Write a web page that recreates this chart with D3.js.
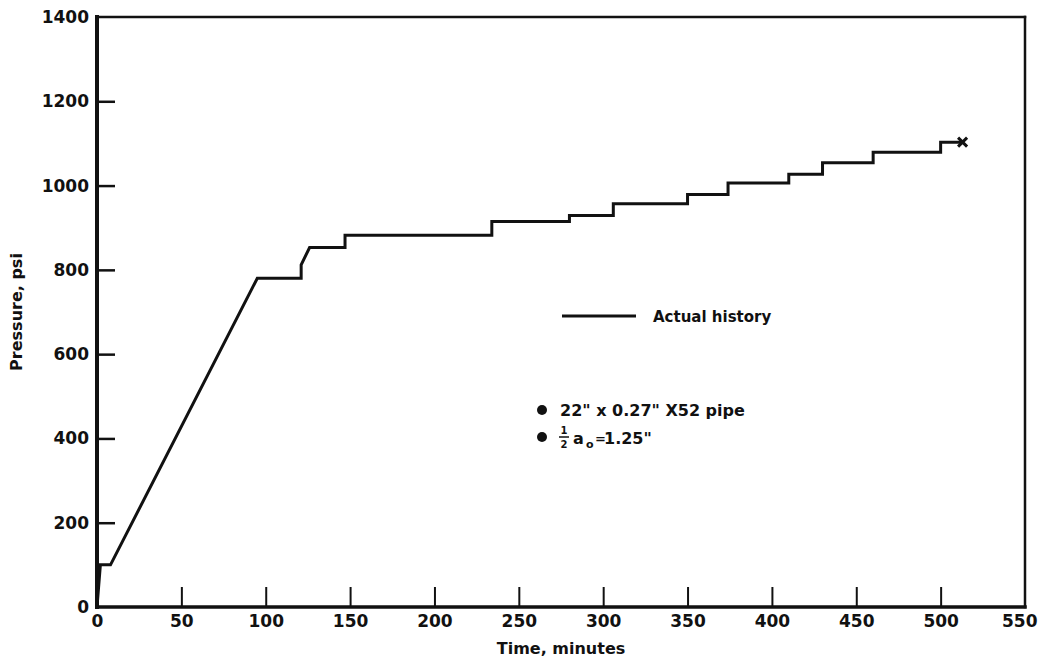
<!DOCTYPE html>
<html>
<head>
<meta charset="utf-8">
<script src="https://cdn.jsdelivr.net/npm/d3@7/dist/d3.min.js"></script>
<style>
  body { margin: 0; background: #fff; }
  svg text { font-family: "DejaVu Sans", sans-serif; font-weight: bold; fill: #111; }
</style>
</head>
<body>
<svg id="chart" width="1039" height="664"></svg>
<script>
// Pressure history of the hydrostatic test, read as corner points of the trace
const timeMin = [0, 2, 8, 95, 121, 121, 126, 147, 147, 234, 234, 280, 280, 306, 306,
                 350, 350, 374, 374, 410, 410, 430, 430, 460, 460, 500, 500, 513];
const pressurePsi = [0, 100, 100, 780, 780, 812, 853, 853, 882, 882, 915, 915, 929, 929, 957,
                     957, 979, 979, 1006, 1006, 1027, 1027, 1054, 1054, 1079, 1079, 1103, 1103];
// Failure point, marked with a cross
const failureTime = [513];
const failurePressure = [1103];

const xTickValues = [0, 50, 100, 150, 200, 250, 300, 350, 400, 450, 500, 550];
const yTickValues = [0, 200, 400, 600, 800, 1000, 1200, 1400];

const legendLabel = "Actual history";
const noteLines = ["22\" x 0.27\" X52 pipe"];

const svg = d3.select("#chart");
const ink = "#111";
const W = 1039;

const x = d3.scaleLinear().domain([0, 550]).range([97, 1025]);
const y = d3.scaleLinear().domain([0, 1400]).range([607, 17]);

// Y axis: ticks point inward, labels to the left
const yAxis = d3.axisLeft(y)
  .tickValues(yTickValues)
  .tickSize(-18)
  .tickPadding(8)
  .tickFormat(d3.format("d"));
const gy = svg.append("g").attr("transform", `translate(${x(0)},0)`).call(yAxis);
gy.select(".domain").remove();
gy.selectAll(".tick line")
  .attr("stroke", ink).attr("stroke-width", 2.5)
  .filter(d => d === 0 || d === 1400).remove();
gy.selectAll(".tick text").style("font-size", "17px").attr("fill", ink);

// X axis: ticks point upward, labels below
const xAxis = d3.axisBottom(x)
  .tickValues(xTickValues)
  .tickSize(-20)
  .tickPadding(8)
  .tickFormat(d3.format("d"));
const gx = svg.append("g").attr("transform", `translate(0,${y(0)})`).call(xAxis);
gx.select(".domain").remove();
gx.selectAll(".tick line")
  .attr("stroke", ink).attr("stroke-width", 2)
  .filter(d => d === 0 || d === 550).remove();
gx.selectAll(".tick text").style("font-size", "17px").attr("fill", ink);
// keep the last label inside the page edge
gx.selectAll(".tick text")
  .filter(d => d === 550)
  .attr("text-anchor", "end")
  .attr("x", W - 2 - x(550));

// Plot frame: heavy left and bottom, lighter top and right
const frame = svg.append("g").attr("stroke", ink).attr("fill", "none").attr("stroke-linecap", "square");
frame.append("line").attr("x1", x(0)).attr("x2", x(550)).attr("y1", y(1400)).attr("y2", y(1400)).attr("stroke-width", 2.5);
frame.append("line").attr("x1", x(550)).attr("x2", x(550)).attr("y1", y(1400)).attr("y2", y(0)).attr("stroke-width", 2.5);
frame.append("line").attr("x1", x(0)).attr("x2", x(550)).attr("y1", y(0)).attr("y2", y(0)).attr("stroke-width", 3.5);
frame.append("line").attr("x1", x(0)).attr("x2", x(0)).attr("y1", y(1400)).attr("y2", y(0)).attr("stroke-width", 4);

// Pressure trace
const line = d3.line().x(d => x(d[0])).y(d => y(d[1]));
svg.append("path")
  .datum(d3.zip(timeMin, pressurePsi))
  .attr("d", line)
  .attr("fill", "none")
  .attr("stroke", ink)
  .attr("stroke-width", 3)
  .attr("stroke-linejoin", "miter");

// Failure cross
d3.zip(failureTime, failurePressure).forEach(([t, p]) => {
  const cx = x(t), cy = y(p), r = 4.5;
  svg.append("path")
    .attr("d", `M${cx - r},${cy - r}L${cx + r},${cy + r}M${cx - r},${cy + r}L${cx + r},${cy - r}`)
    .attr("stroke", ink).attr("stroke-width", 3).attr("fill", "none");
});

// Axis titles
svg.append("text")
  .attr("x", 561).attr("y", 654)
  .attr("text-anchor", "middle")
  .style("font-size", "16px")
  .text("Time, minutes");
svg.append("text")
  .attr("transform", "translate(22,312) rotate(-90)")
  .attr("text-anchor", "middle")
  .style("font-size", "16px")
  .text("Pressure, psi");

// Legend
svg.append("line")
  .attr("x1", 562).attr("x2", 636).attr("y1", 316).attr("y2", 316)
  .attr("stroke", ink).attr("stroke-width", 3);
svg.append("text")
  .attr("x", 653).attr("y", 322)
  .style("font-size", "15px")
  .text(legendLabel);

// Specimen notes
svg.append("circle").attr("cx", 542).attr("cy", 410).attr("r", 5).attr("fill", ink);
svg.append("text")
  .attr("x", 560).attr("y", 416)
  .style("font-size", "16px")
  .text(noteLines[0]);

svg.append("circle").attr("cx", 542).attr("cy", 437).attr("r", 5).attr("fill", ink);
// ½ a₀ = 1.25"
svg.append("text").attr("x", 564).attr("y", 434).attr("text-anchor", "middle")
  .style("font-size", "10px").text("1");
svg.append("line").attr("x1", 559).attr("x2", 569).attr("y1", 437).attr("y2", 437)
  .attr("stroke", ink).attr("stroke-width", 1.5);
svg.append("text").attr("x", 564).attr("y", 448).attr("text-anchor", "middle")
  .style("font-size", "10px").text("2");
svg.append("text").attr("x", 573).attr("y", 444).style("font-size", "16px").text("a");
svg.append("text").attr("x", 586).attr("y", 448).style("font-size", "11px").text("o");
svg.append("text").attr("x", 595).attr("y", 443).style("font-size", "13px").text("=");
svg.append("text").attr("x", 604).attr("y", 444).style("font-size", "16px").text("1.25\"");
</script>
</body>
</html>
